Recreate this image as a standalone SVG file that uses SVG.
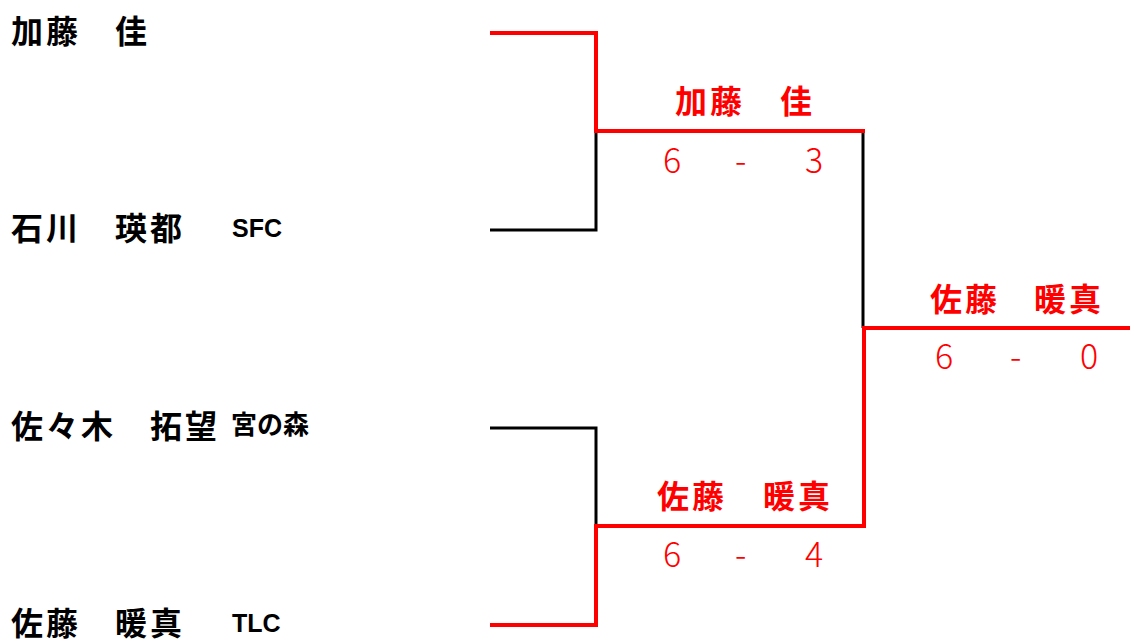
<svg xmlns="http://www.w3.org/2000/svg" width="1130" height="640" viewBox="0 0 1130 640">
<style>
.name{font-family:"Noto Sans CJK JP","Noto Sans CJK SC",sans-serif;font-weight:bold;font-size:32px;letter-spacing:3px;fill:#000}
.win{fill:#ff0000}
.club{font-family:"Liberation Sans","Noto Sans CJK JP",sans-serif;font-weight:bold;font-size:25px;fill:#000}
.clubj{font-family:"Noto Sans CJK JP",sans-serif;font-weight:bold;font-size:26px;fill:#000}
.score{font-family:"Noto Sans CJK JP",sans-serif;font-weight:300;font-size:34px;fill:#ff0000}
.lb{fill:none;stroke:#000;stroke-width:3}
.lr{fill:none;stroke:#ff0000;stroke-width:4}
</style>
<rect width="1130" height="640" fill="#fff"/>
<g id="connectors">
<polyline class="lb" points="490,230 596,230 596,131"/>
<polyline class="lb" points="863,131 863,328"/>
<polyline class="lb" points="490,428 596,428 596,526"/>
<polyline class="lr" points="490,33 596,33 596,131 865,131"/>
<polyline class="lr" points="490,625 596,625 596,526 864,526 864,328 1130,328"/>
</g>
<g id="p1"><text class="name" y="43"><tspan x="11">加藤</tspan><tspan x="115">佳</tspan></text></g>
<g id="p2"><text class="name" y="240"><tspan x="11">石川</tspan><tspan x="115">瑛都</tspan></text><text class="club" x="232" y="237">SFC</text></g>
<g id="p3"><text class="name" y="438"><tspan x="11">佐々木</tspan><tspan x="150">拓望</tspan></text><text class="clubj" x="231" y="434">宮の森</text></g>
<g id="p4"><text class="name" y="635"><tspan x="11">佐藤</tspan><tspan x="115">暖真</tspan></text><text class="club" x="232" y="632">TLC</text></g>
<g id="sf1"><text class="name win" y="113"><tspan x="675">加藤</tspan><tspan x="780">佳</tspan></text>
<text class="score" y="173"><tspan x="663">6</tspan><tspan x="735">-</tspan><tspan x="805">3</tspan></text></g>
<g id="sf2"><text class="name win" y="508"><tspan x="657">佐藤</tspan><tspan x="763">暖真</tspan></text>
<text class="score" y="567"><tspan x="663">6</tspan><tspan x="735">-</tspan><tspan x="805">4</tspan></text></g>
<g id="final"><text class="name win" y="311"><tspan x="930">佐藤</tspan><tspan x="1034">暖真</tspan></text>
<text class="score" y="369"><tspan x="935">6</tspan><tspan x="1010">-</tspan><tspan x="1080">0</tspan></text></g>
</svg>
